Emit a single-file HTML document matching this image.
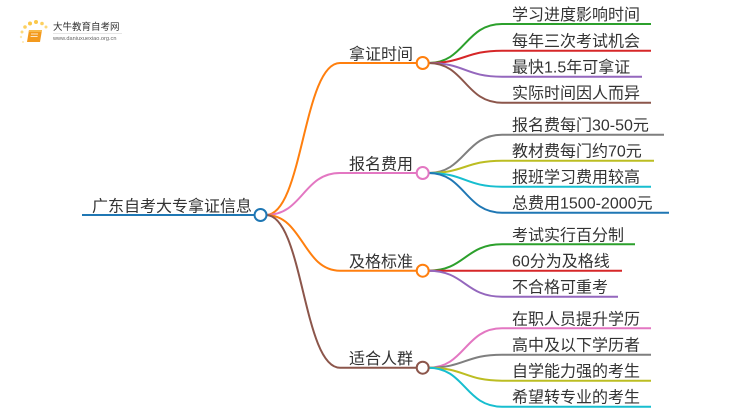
<!DOCTYPE html>
<html><head><meta charset="utf-8"><style>
html,body{margin:0;padding:0;background:#fff;}
svg{display:block;}
text{font-family:"Liberation Sans","Noto Sans CJK SC",sans-serif;fill:#333;}
</style></head><body>
<svg width="750" height="410" viewBox="0 0 750 410" xmlns="http://www.w3.org/2000/svg">
<!-- logo -->
<g>
<circle cx="21" cy="37" r="1.2" fill="#fde9b0"/>
<circle cx="22" cy="32" r="1.5" fill="#fcd97a"/>
<circle cx="25" cy="27" r="1.8" fill="#fcd060"/>
<circle cx="30" cy="23.5" r="2" fill="#fbc84a"/>
<circle cx="36" cy="22" r="2" fill="#fbc84a"/>
<circle cx="42" cy="23.5" r="1.8" fill="#fcd060"/>
<circle cx="46" cy="27" r="1.5" fill="#fcd97a"/>
<circle cx="23" cy="42" r="1" fill="#fde9b0"/>
<path d="M29 30 L42 30 L40 42 L27 42 Z" fill="#f39a1e"/>
<path d="M29 30 L42 30 L41.5 32 L28.6 32 Z" fill="#f7b94a"/>
<path d="M31 34 L38 34 M30.6 36.5 L37.6 36.5" stroke="#fff" stroke-width="0.8"/>
<text x="53" y="30" font-size="9.5" style="fill:#333">大牛教育自考网</text>
<line x1="53" y1="33.5" x2="122" y2="33.5" stroke="#ccc" stroke-width="0.5"/>
<text x="53" y="40" font-size="5.6" style="fill:#666">www.daniuxuexiao.org.cn</text>
</g>

<!-- root -->
<line x1="82" y1="215" x2="254" y2="215" stroke="#1f77b4" stroke-width="2"/>
<text x="92" y="211.5" font-size="16">广东自考大专拿证信息</text>

<!-- main branches -->
<g fill="none" stroke-width="2">
<path d="M266 215 C303 215 303 63 340 63 L416.5 63" stroke="#ff7f0e"/>
<path d="M266 215 C303 215 303 173 340 173 L416.5 173" stroke="#e377c2"/>
<path d="M266 215 C303 215 303 270.7 340 270.7 L416.5 270.7" stroke="#ff7f0e"/>
<path d="M266 215 C303 215 303 367.7 340 367.7 L416.5 367.7" stroke="#8c564b"/>
</g>
<circle cx="260.5" cy="215" r="6" fill="#fff" stroke="#1f77b4" stroke-width="2"/>

<text x="413" y="59.5" font-size="16" text-anchor="end">拿证时间</text>
<text x="413" y="169.5" font-size="16" text-anchor="end">报名费用</text>
<text x="413" y="267" font-size="16" text-anchor="end">及格标准</text>
<text x="413" y="364" font-size="16" text-anchor="end">适合人群</text>

<!-- leaves -->
<g fill="none" stroke-width="2">
<path d="M428.5 63 C465 63 465 24 502 24 L651 24" stroke="#2ca02c"/>
<path d="M428.5 63 C465 63 465 50.7 502 50.7 L651 50.7" stroke="#d62728"/>
<path d="M428.5 63 C465 63 465 76.7 502 76.7 L642 76.7" stroke="#9467bd"/>
<path d="M428.5 63 C465 63 465 102.7 502 102.7 L651 102.7" stroke="#8c564b"/>

<path d="M428.5 173 C465 173 465 134.7 502 134.7 L664 134.7" stroke="#7f7f7f"/>
<path d="M428.5 173 C465 173 465 160.7 502 160.7 L654 160.7" stroke="#bcbd22"/>
<path d="M428.5 173 C465 173 465 186.7 502 186.7 L651 186.7" stroke="#17becf"/>
<path d="M428.5 173 C465 173 465 212.7 502 212.7 L669 212.7" stroke="#1f77b4"/>

<path d="M428.5 270.7 C465 270.7 465 244.3 502 244.3 L635 244.3" stroke="#2ca02c"/>
<path d="M428.5 270.7 C465 270.7 465 270.7 502 270.7 L622 270.7" stroke="#d62728"/>
<path d="M428.5 270.7 C465 270.7 465 296.7 502 296.7 L618 296.7" stroke="#9467bd"/>

<path d="M428.5 367.7 C465 367.7 465 328.3 502 328.3 L651 328.3" stroke="#e377c2"/>
<path d="M428.5 367.7 C465 367.7 465 354.7 502 354.7 L651 354.7" stroke="#7f7f7f"/>
<path d="M428.5 367.7 C465 367.7 465 380.7 502 380.7 L651 380.7" stroke="#bcbd22"/>
<path d="M428.5 367.7 C465 367.7 465 406.7 502 406.7 L651 406.7" stroke="#17becf"/>
</g>

<circle cx="422.7" cy="63" r="6" fill="#fff" stroke="#ff7f0e" stroke-width="2"/>
<circle cx="422.7" cy="173" r="6" fill="#fff" stroke="#e377c2" stroke-width="2"/>
<circle cx="422.7" cy="270.7" r="6" fill="#fff" stroke="#ff7f0e" stroke-width="2"/>
<circle cx="422.7" cy="367.7" r="6" fill="#fff" stroke="#8c564b" stroke-width="2"/>

<g font-size="16">
<text x="512" y="20">学习进度影响时间</text>
<text x="512" y="46.7">每年三次考试机会</text>
<text x="512" y="72.7">最快1.5年可拿证</text>
<text x="512" y="98.7">实际时间因人而异</text>
<text x="512" y="130.7">报名费每门30-50元</text>
<text x="512" y="156.7">教材费每门约70元</text>
<text x="512" y="182.7">报班学习费用较高</text>
<text x="512" y="208.7">总费用1500-2000元</text>
<text x="512" y="240.3">考试实行百分制</text>
<text x="512" y="266.7">60分为及格线</text>
<text x="512" y="292.7">不合格可重考</text>
<text x="512" y="324.3">在职人员提升学历</text>
<text x="512" y="350.7">高中及以下学历者</text>
<text x="512" y="376.7">自学能力强的考生</text>
<text x="512" y="402.7">希望转专业的考生</text>
</g>
</svg>
</body></html>
